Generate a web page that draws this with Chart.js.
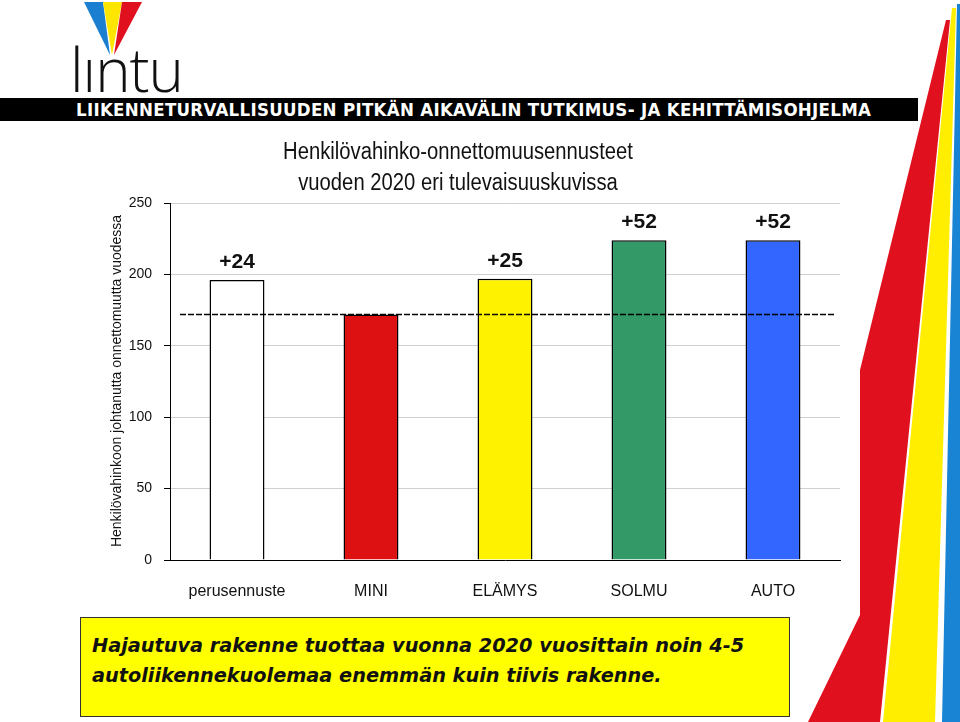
<!DOCTYPE html>
<html><head><meta charset="utf-8">
<script src="https://cdn.jsdelivr.net/npm/chart.js@4"></script>
<style>
body{margin:0;background:#fff;width:960px;height:722px;overflow:hidden;position:relative;font-family:"Liberation Sans",Arial,sans-serif}
#deco{position:absolute;left:0;top:0}
canvas#c{position:absolute;left:0;top:0}
#banner{position:absolute;left:0;top:98px;width:918px;height:23px;background:#000;color:#fff;font:bold 18.5px "DejaVu Sans Condensed","Liberation Sans Narrow",sans-serif;line-height:23px;padding-left:76px;box-sizing:border-box;letter-spacing:0.3px;white-space:nowrap}
#logo{position:absolute;left:70px;top:28px;font:300 60px "Open Sans","DejaVu Sans",sans-serif;color:#111;letter-spacing:-1px}
#box{position:absolute;left:80px;top:617px;width:710px;height:100px;background:#ffff00;border:1px solid #333;box-sizing:border-box;padding:13px 0 0 11px;font:bold oblique 19.3px "DejaVu Sans",Verdana,sans-serif;line-height:30px;color:#111}
</style></head><body>
<svg id="deco" width="960" height="722">
<polygon points="84,2 103,2 110,55 " fill="#1a7fd0"/>
<polygon points="103,2 122,2 112,55" fill="#ffe600"/>
<polygon points="122,2 142,2 114,55" fill="#e0101e"/>
<polygon points="946,20 950,20 880,722 808,722 860,615 860,370" fill="#e0101e"/>
<polygon points="952,8 956,8 935,722 883,722" fill="#ffee00"/>
<polygon points="957,4 960,4 960,722 942,722" fill="#1a84d4"/>
</svg>
<div id="logo">lıntu</div>
<div id="banner">LIIKENNETURVALLISUUDEN PITKÄN AIKAVÄLIN TUTKIMUS- JA KEHITTÄMISOHJELMA</div>
<canvas id="c" width="960" height="722"></canvas>
<div id="box">Hajautuva rakenne tuottaa vuonna 2020 vuosittain noin 4-5<br>autoliikennekuolemaa enemmän kuin tiivis rakenne.</div>
<script>
const categories=["perusennuste","MINI","ELÄMYS","SOLMU","AUTO"];
const values=[196,172,197,224,224];
const diffLabels=["+24","","+25","+52","+52"];
const baseline=172;
const barColors=["#ffffff","#dd1111","#fff200","#339966","#3366ff"];
const titleLines=["Henkilövahinko-onnettomuusennusteet","vuoden 2020 eri tulevaisuuskuvissa"];
const yTitle="Henkilövahinkoon johtanutta onnettomuutta vuodessa";
const narrow='"Liberation Sans Narrow","Liberation Sans",Arial,sans-serif';
function nText(c,t,x,y,sx){c.save();c.translate(x,y);c.scale(sx,1);c.fillText(t,0,0);c.restore();}
const deco={id:'deco',afterDatasetsDraw(ch){
 const c=ch.ctx,x=ch.scales.x,y=ch.scales.y,a=ch.chartArea;
 c.save();
 c.strokeStyle='#000';c.lineWidth=1.5;c.setLineDash([6,2]);
 const yb=Math.round(y.getPixelForValue(baseline))+0.5;
 c.beginPath();c.moveTo(a.left+10,yb);c.lineTo(a.right-5,yb);c.stroke();c.setLineDash([]);
 c.fillStyle='#111';c.font='bold 21px "Liberation Sans",Arial';c.textAlign='center';c.textBaseline='bottom';
 values.forEach((v,i)=>{if(diffLabels[i])c.fillText(diffLabels[i],x.getPixelForValue(i),y.getPixelForValue(v)-7);});
 c.font='23px '+narrow;c.textBaseline='middle';
 nText(c,titleLines[0],458,153,0.88);nText(c,titleLines[1],458,184,0.88);
 c.font='15.5px '+narrow;c.translate(117,381);c.rotate(-Math.PI/2);nText(c,yTitle,0,0,0.9);
 c.restore();}};
new Chart(document.getElementById('c'),{type:'bar',
 data:{labels:categories,datasets:[{data:values,backgroundColor:barColors,borderColor:'#000',borderWidth:1.5,barPercentage:0.41,categoryPercentage:1}]},
 options:{responsive:false,animation:false,
  layout:{padding:{left:120,right:120,top:203,bottom:122}},
  plugins:{legend:{display:false},tooltip:{enabled:false}},
  scales:{
   y:{min:0,max:250,afterFit(s){s.width=50;},ticks:{stepSize:50,color:'#111',font:{size:14,family:narrow},padding:12},
      grid:{color:'#d0d0d0',drawTicks:true,tickLength:6,tickColor:'#000'},border:{color:'#000',width:1}},
   x:{afterFit(s){s.height=40;},ticks:{color:'#111',font:{size:16,family:narrow},padding:14},grid:{display:false},border:{color:'#000',width:1}}
  }},plugins:[deco]});
</script></body></html>
